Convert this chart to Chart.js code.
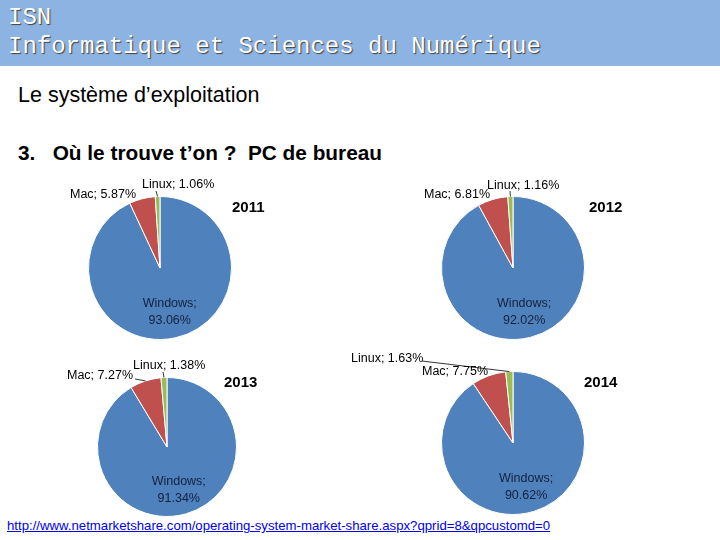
<!DOCTYPE html>
<html>
<head>
<meta charset="utf-8">
<script src="https://cdn.jsdelivr.net/npm/chart.js@4/dist/chart.umd.min.js"></script>
<style>
  body { margin:0; width:720px; height:540px; background:#fff; position:relative; overflow:hidden; font-family:"Liberation Sans", Arial, sans-serif; }
  #header { position:absolute; left:0; top:0; width:720px; height:66px; background:#8db3e2; }
  #header div { position:absolute; left:8px; font-family:"Liberation Mono", monospace; font-size:24px; color:#fff; text-shadow:1px 1px 1px #404040; }
  .txt { position:absolute; left:18px; color:#000; }
  .year { position:absolute; font-weight:bold; font-size:15px; color:#000; }
  canvas { position:absolute; }
  #link { position:absolute; left:7px; top:518px; font-size:13.2px; color:#0000ee; text-decoration:underline; }
</style>
</head>
<body>
<div id="header">
  <div style="top:4px">ISN</div>
  <div style="top:33px">Informatique et Sciences du Numérique</div>
</div>
<div class="txt" style="top:83px;font-size:21.5px">Le système d’exploitation</div>
<div class="txt" style="top:141px;font-size:20.8px;font-weight:bold">3.&nbsp;&nbsp;&nbsp;Où le trouve t’on ?&nbsp; PC de bureau</div>
<div id="link">http://www.netmarketshare.com/operating-system-market-share.aspx?qprid=8&amp;qpcustomd=0</div>

<script>
const years = ['2011', '2012', '2013', '2014'];
const categories = ['Windows', 'Mac', 'Linux'];
const windowsShare = [93.06, 92.02, 91.34, 90.62];
const macShare = [5.87, 6.81, 7.27, 7.75];
const linuxShare = [1.06, 1.16, 1.38, 1.63];

const colors = ['#4f81bd', '#c0504d', '#9bbb59'];

// pie centre, radius, year title offset, label placement (offsets from centre)
const layout = [
  { cx:160, cy:268, r:72, year:[72,-70],
    mac:{x:-24,y:-73,align:'right'}, linux:{x:-18,y:-83,align:'left',from:[-4,-77]} },
  { cx:513, cy:268, r:72, year:[76,-70],
    mac:{x:-23,y:-73,align:'right'}, linux:{x:-26,y:-82,align:'left',from:[-3,-77]} },
  { cx:167, cy:447, r:70, year:[57,-74],
    mac:{x:-34,y:-71,align:'right',from:[-32,-68]}, linux:{x:-34,y:-81,align:'left',from:[-4,-75]} },
  { cx:513, cy:443, r:72, year:[71,-70],
    mac:{x:-91,y:-71,align:'left'}, linux:{x:-162,y:-84,align:'left',from:[-91,-82]} }
];

const labelPlugin = {
  id: 'pieLabels',
  afterDatasetsDraw(chart) {
    const ctx = chart.ctx;
    const cfg = chart.options.plugins.pieLabels;
    const arcs = chart.getDatasetMeta(0).data;
    const vals = chart.data.datasets[0].data;
    const fmt = v => v.toFixed(2) + '%';
    ctx.save();
    ctx.font = '12.5px "Liberation Sans", Arial, sans-serif';
    ctx.textBaseline = 'middle';

    // Windows: inside the slice
    const w = arcs[0];
    const wm = (w.startAngle + w.endAngle) / 2;
    const wx = w.x + Math.cos(wm) * w.outerRadius * 0.63;
    const wy = w.y + Math.sin(wm) * w.outerRadius * 0.63;
    ctx.fillStyle = '#13213f';
    ctx.textAlign = 'center';
    ctx.fillText(categories[0] + ';', wx, wy - 8);
    ctx.fillText(fmt(vals[0]), wx, wy + 9);

    // Mac and Linux: outside, with leader lines
    [['mac', 1], ['linux', 2]].forEach(([key, i]) => {
      const p = cfg[key];
      const a = arcs[i];
      const m = (a.startAngle + a.endAngle) / 2;
      const ex = a.x + Math.cos(m) * a.outerRadius;
      const ey = a.y + Math.sin(m) * a.outerRadius;
      ctx.fillStyle = '#000';
      ctx.textAlign = p.align;
      ctx.fillText(categories[i] + '; ' + fmt(vals[i]), a.x + p.x, a.y + p.y);
      if (p.from) {
        ctx.strokeStyle = '#000';
        ctx.lineWidth = 0.8;
        ctx.beginPath();
        ctx.moveTo(a.x + p.from[0], a.y + p.from[1]);
        ctx.lineTo(ex, ey);
        ctx.stroke();
      }
    });
    ctx.restore();
  }
};

const W = 340, H = 190;
years.forEach((yr, k) => {
  const L = layout[k];
  const cv = document.createElement('canvas');
  cv.width = W; cv.height = H;
  cv.style.left = (L.cx - W / 2) + 'px';
  cv.style.top = (L.cy - H / 2) + 'px';
  cv.style.width = W + 'px'; cv.style.height = H + 'px';
  document.body.appendChild(cv);

  const t = document.createElement('div');
  t.className = 'year';
  t.textContent = yr;
  t.style.left = (L.cx + L.year[0]) + 'px';
  t.style.top = (L.cy + L.year[1]) + 'px';
  document.body.appendChild(t);

  const pad = H / 2 - L.r;
  new Chart(cv, {
    type: 'pie',
    data: {
      labels: categories,
      datasets: [{
        data: [windowsShare[k], macShare[k], linuxShare[k]],
        backgroundColor: colors,
        borderColor: '#fff',
        borderWidth: 1
      }]
    },
    options: {
      responsive: false,
      animation: false,
      layout: { padding: pad },
      plugins: {
        legend: { display: false },
        tooltip: { enabled: false },
        pieLabels: { mac: L.mac, linux: L.linux }
      }
    },
    plugins: [labelPlugin]
  });
});
</script>
</body>
</html>
